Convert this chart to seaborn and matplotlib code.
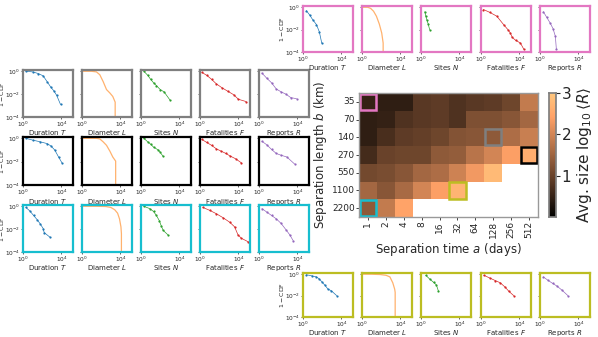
import matplotlib
import numpy as np
import pandas as pd

matplotlib.use("Agg")
import matplotlib.pyplot as plt
from matplotlib.patches import Rectangle
import seaborn as sns

sns.set_theme(style="ticks")
plt.rcParams["font.family"] = ["DejaVu Sans"]
plt.rcParams["mathtext.fontset"] = "dejavusans"

# heatmap data: avg. size log10<R> for separation length b (rows) and time a (cols)
sep_length = [35, 70, 140, 270, 550, 1100, 2200]
sep_time = [1, 2, 4, 8, 16, 32, 64, 128, 256, 512]
nan = np.nan
size_35 = [0.5, 0.45, 0.45, 0.85, 0.9, 0.75, 0.85, 0.9, 1.05, 1.85]
size_70 = [0.45, 0.5, 0.75, 0.85, 0.9, 0.75, 1.2, 1.2, 1.3, 1.55]
size_140 = [0.45, 0.7, 0.9, 0.95, 1.05, 1.25, 1.3, 1.35, 1.65, 1.9]
size_270 = [0.65, 1.0, 1.05, 1.05, 1.35, 1.4, 1.75, 2.0, 2.4, 2.6]
size_550 = [1.1, 1.15, 1.3, 1.55, 1.65, 1.95, 2.3, 2.8, nan, nan]
size_1100 = [1.55, 1.3, 1.6, 2.0, 2.4, 2.7, nan, nan, nan, nan]
size_2200 = [1.35, 1.85, 2.45, nan, nan, nan, nan, nan, nan, nan]

# highlighted cells (b, a) and their colours
highlight_cells = [(35, 1), (140, 128), (270, 512), (1100, 32), (2200, 1)]
highlight_colors = ["tab:pink", "tab:gray", "black", "tab:olive", "tab:cyan"]

variables = ["Duration $T$", "Diameter $L$", "Sites $N$", "Fatalities $F$", "Reports $R$"]
var_colors = ["tab:blue", "tab:orange", "tab:green", "tab:red", "tab:purple"]

# CCDF curves, in log10 units (x: size, y: 1-CDF)
gray_dur_x = [0.3, 1.0, 1.6, 2.1, 2.5, 2.9, 3.2, 3.5, 3.9]
gray_dur_y = [0, -0.05, -0.2, -0.4, -0.9, -1.4, -1.7, -2.1, -2.9]
gray_diam_x = [0, 1.0, 1.5, 1.85, 2.2, 2.55, 2.9, 3.2, 3.45, 3.45]
gray_diam_y = [0, 0, -0.05, -0.3, -0.9, -1.6, -1.9, -2.2, -2.7, -4.2]
gray_sites_x = [0.3, 0.7, 1.0, 1.3, 1.6, 2.0, 2.4, 3.0]
gray_sites_y = [0, -0.35, -0.7, -1.0, -1.25, -1.6, -1.8, -2.5]
gray_fat_x = [0.2, 0.7, 1.2, 1.7, 2.3, 2.9, 3.5, 4.0, 4.8]
gray_fat_y = [-0.1, -0.35, -0.7, -1.1, -1.45, -1.75, -2.05, -2.45, -2.65]
gray_rep_x = [0.3, 0.8, 1.3, 1.8, 2.3, 2.8, 3.3, 3.9]
gray_rep_y = [-0.15, -0.6, -1.0, -1.55, -1.8, -2.0, -2.3, -2.4]

black_dur_x = [0.3, 1.0, 1.8, 2.5, 2.9, 3.3, 3.7, 4.05]
black_dur_y = [0, -0.15, -0.3, -0.45, -0.65, -1.0, -1.6, -2.1]
black_diam_x = [0, 1.5, 1.85, 2.2, 2.55, 2.9, 3.2, 3.5, 3.5]
black_diam_y = [0, 0, -0.05, -0.3, -0.6, -1.1, -1.6, -1.95, -4.2]
black_sites_x = [0.3, 0.7, 1.0, 1.3, 1.8, 2.0, 2.3]
black_sites_y = [0, -0.3, -0.5, -0.75, -1.0, -1.2, -1.55]
black_fat_x = [0.2, 0.7, 1.2, 1.7, 2.2, 2.7, 3.1, 3.7, 4.3]
black_fat_y = [-0.1, -0.35, -0.6, -0.9, -1.1, -1.3, -1.5, -1.75, -2.1]
black_rep_x = [0.3, 0.8, 1.3, 1.8, 2.3, 2.9, 3.7]
black_rep_y = [-0.25, -0.55, -0.95, -1.3, -1.45, -1.6, -2.2]

cyan_dur_x = [0.3, 0.7, 1.1, 1.5, 1.8, 2.1, 2.2, 2.8]
cyan_dur_y = [-0.1, -0.4, -0.8, -1.2, -1.55, -1.95, -2.3, -2.7]
cyan_diam_x = [0, 1.5, 2.5, 3.0, 3.4, 3.7, 3.9, 4.05, 4.1, 4.1]
cyan_diam_y = [0, 0, -0.02, -0.1, -0.3, -0.6, -1.1, -1.8, -2.4, -4.2]
cyan_sites_x = [0.3, 0.9, 1.3, 1.6, 1.9, 2.1, 2.3, 2.8]
cyan_sites_y = [0, -0.2, -0.45, -0.8, -1.25, -1.7, -2.1, -2.5]
cyan_fat_x = [0.3, 1.0, 1.7, 2.4, 3.1, 3.6, 3.95, 4.3, 5.0]
cyan_fat_y = [-0.1, -0.35, -0.65, -1.0, -1.4, -1.8, -2.5, -2.8, -3.1]
cyan_rep_x = [0.3, 0.8, 1.3, 1.8, 2.3, 2.85, 3.2, 3.55]
cyan_rep_y = [-0.2, -0.5, -0.8, -1.1, -1.5, -2.1, -2.5, -3.0]

pink_dur_x = [0.35, 0.7, 1.0, 1.4, 1.7, 1.95]
pink_dur_y = [-0.3, -0.7, -1.1, -1.55, -2.2, -3.2]
pink_diam_x = [0, 0.6, 0.9, 1.2, 1.5, 1.8, 2.05, 2.2, 2.2]
pink_diam_y = [0, 0, -0.1, -0.35, -0.8, -1.5, -2.3, -3.2, -4.2]
pink_sites_x = [0.4, 0.5, 0.6, 0.75, 0.9]
pink_sites_y = [-0.4, -0.8, -1.1, -1.5, -2.0]
pink_fat_x = [0.25, 0.9, 1.65, 2.35, 2.8, 3.05, 3.25, 3.6, 4.1, 4.45]
pink_fat_y = [-0.2, -0.45, -0.8, -1.55, -2.0, -2.3, -2.7, -2.95, -3.2, -3.75]
pink_rep_x = [0.35, 0.7, 1.05, 1.35, 1.6, 1.7]
pink_rep_y = [-0.4, -0.9, -1.4, -1.9, -2.6, -3.75]

olive_dur_x = [0.35, 0.9, 1.4, 1.7, 1.95, 2.3, 2.6, 2.95, 3.5]
olive_dur_y = [-0.05, -0.15, -0.25, -0.45, -0.7, -1.05, -1.4, -1.55, -2.0]
olive_diam_x = [0, 1.0, 1.9, 2.5, 2.9, 3.2, 3.4, 3.45, 3.45]
olive_diam_y = [0, 0, -0.03, -0.1, -0.25, -0.8, -1.4, -1.7, -4.2]
olive_sites_x = [0.5, 0.9, 1.3, 1.6, 1.8]
olive_sites_y = [-0.1, -0.45, -0.75, -1.0, -1.55]
olive_fat_x = [0.3, 0.9, 1.5, 2.0, 2.5, 2.9, 3.4]
olive_fat_y = [-0.1, -0.35, -0.6, -0.8, -1.2, -1.6, -2.0]
olive_rep_x = [0.35, 0.8, 1.3, 1.75, 2.3, 2.9]
olive_rep_y = [-0.25, -0.55, -0.85, -1.1, -1.5, -2.0]

W, H = 598, 337
fig = plt.figure(figsize=(W / 100, H / 100), dpi=100)


def add_px_axes(x0, y0, x1, y1):
    return fig.add_axes([x0 / W, 1 - y1 / H, (x1 - x0) / W, (y1 - y0) / H])


def ccdf_row(curves, edge, lefts, top, bottom):
    for j, (cx, cy) in enumerate(curves):
        ax = add_px_axes(lefts[j], top, lefts[j] + 50, bottom)
        df = pd.DataFrame({"x": 10 ** np.array(cx, float), "y": 10 ** np.array(cy, float)})
        if j == 1:
            sns.lineplot(data=df, x="x", y="y", ax=ax, color=var_colors[j], lw=0.9,
                         alpha=0.6, sort=False, estimator=None)
        else:
            sns.lineplot(data=df, x="x", y="y", ax=ax, color=var_colors[j], lw=0.5,
                         marker="o", markersize=1.6, markeredgewidth=0, sort=False,
                         estimator=None)
        ax.set_xscale("log")
        ax.set_yscale("log")
        ax.set_xlim(1, 10 ** 5.2)
        ax.set_ylim(1e-4, 1.3)
        ax.set_xticks([1, 1e4])
        ax.set_xticklabels(["$10^0$", "$10^4$"])
        ax.set_yticks([1e-4, 1e-2, 1])
        ax.minorticks_off()
        ax.tick_params(labelsize=4.2, length=1.5, width=0.5, pad=0.5)
        ax.set_xlabel(variables[j], fontsize=5, labelpad=0)
        ax.xaxis.set_label_coords(0.5, -0.24)
        if j == 0:
            ax.set_yticklabels(["$10^{-4}$", "$10^{-2}$", "$10^0$"])
            ax.set_ylabel("$1-\\mathrm{CDF}$", fontsize=4.5, labelpad=0)
            ax.yaxis.set_label_coords(-0.33, 0.5)
        else:
            ax.set_yticklabels([])
            ax.set_ylabel("")
        for s in ax.spines.values():
            s.set_visible(True)
            s.set_color(edge)
            s.set_linewidth(1.6)


left_cols = [23, 82, 141, 200, 259]
right_cols = [303, 362, 421, 481, 540]

ccdf_row([(gray_dur_x, gray_dur_y), (gray_diam_x, gray_diam_y), (gray_sites_x, gray_sites_y),
          (gray_fat_x, gray_fat_y), (gray_rep_x, gray_rep_y)], "tab:gray", left_cols, 70, 117)
ccdf_row([(black_dur_x, black_dur_y), (black_diam_x, black_diam_y), (black_sites_x, black_sites_y),
          (black_fat_x, black_fat_y), (black_rep_x, black_rep_y)], "black", left_cols, 137, 185)
ccdf_row([(cyan_dur_x, cyan_dur_y), (cyan_diam_x, cyan_diam_y), (cyan_sites_x, cyan_sites_y),
          (cyan_fat_x, cyan_fat_y), (cyan_rep_x, cyan_rep_y)], "tab:cyan", left_cols, 205, 252)
ccdf_row([(pink_dur_x, pink_dur_y), (pink_diam_x, pink_diam_y), (pink_sites_x, pink_sites_y),
          (pink_fat_x, pink_fat_y), (pink_rep_x, pink_rep_y)], "tab:pink", right_cols, 6, 52)
ccdf_row([(olive_dur_x, olive_dur_y), (olive_diam_x, olive_diam_y), (olive_sites_x, olive_sites_y),
          (olive_fat_x, olive_fat_y), (olive_rep_x, olive_rep_y)], "tab:olive", right_cols, 273, 317)

# heatmap
size_table = pd.DataFrame([size_35, size_70, size_140, size_270, size_550, size_1100, size_2200],
                          index=sep_length, columns=sep_time)
hax = add_px_axes(359, 93, 538, 217)
cax = add_px_axes(549, 93, 556, 217)
sns.heatmap(size_table, ax=hax, cbar_ax=cax, cmap="copper", vmin=0, vmax=3,
            cbar_kws={"ticks": [1, 2, 3]})
hax.tick_params(labelsize=6.5, length=2, width=0.6, pad=1)
hax.set_yticklabels([str(v) for v in sep_length], rotation=0)
hax.set_xticklabels([str(v) for v in sep_time], rotation=90)
hax.set_xlabel("Separation time $a$ (days)", fontsize=8.5, labelpad=2)
hax.set_ylabel("Separation length $b$ (km)", fontsize=8.5, labelpad=2)
for s in hax.spines.values():
    s.set_visible(True)
    s.set_color("0.6")
    s.set_linewidth(1)
for (b, a), c in zip(highlight_cells, highlight_colors):
    i = sep_length.index(b)
    j = sep_time.index(a)
    hax.add_patch(Rectangle((j + 0.04, i + 0.04), 0.92, 0.92, fill=False, edgecolor=c, lw=1.8))

cax.tick_params(labelsize=11, length=3, width=0.8, pad=1)
cax.set_ylabel("Avg. size $\\log_{10}\\langle R\\rangle$", fontsize=11, labelpad=3)
for s in cax.spines.values():
    s.set_visible(True)
    s.set_color("0.5")

fig.savefig("out.png", dpi=100)
